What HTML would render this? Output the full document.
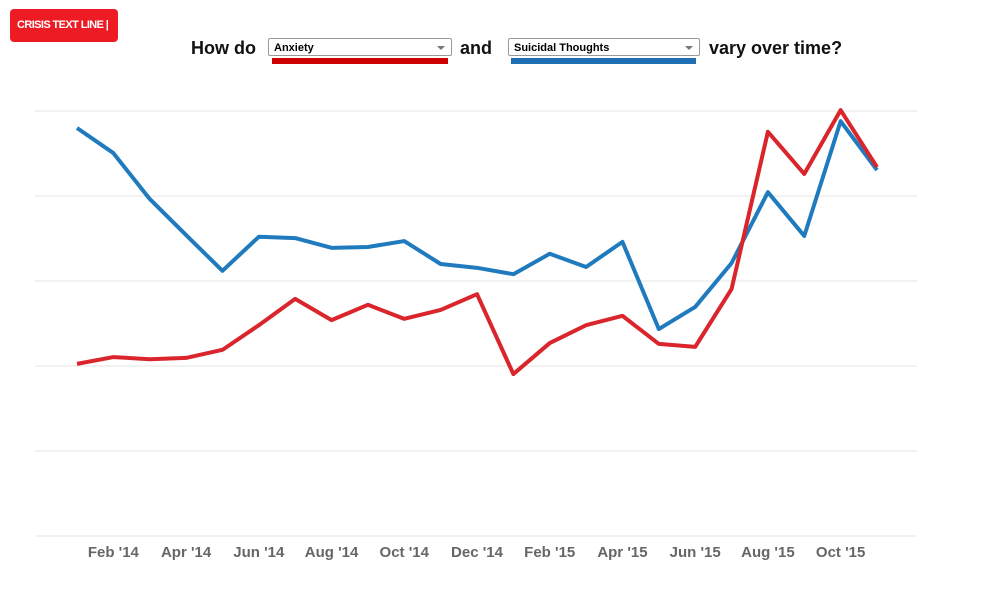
<!DOCTYPE html>
<html><head><meta charset="utf-8"><style>
body{margin:0;width:992px;height:591px;background:#fff;font-family:"Liberation Sans",sans-serif;position:relative;overflow:hidden}
.logo{position:absolute;left:10px;top:9px;width:108px;height:33px;background:#ed1c24;border-radius:4px;color:#fff;font-weight:bold;font-size:11px;line-height:33px;text-align:left;padding-left:7px;box-sizing:border-box;letter-spacing:-0.6px}
.title{position:absolute;top:38px;font-size:18px;font-weight:bold;color:#111}
.sel{position:absolute;top:38px;height:18px;border:1px solid #999;border-radius:2px;background:#fff;font-size:11px;font-weight:bold;line-height:18px;padding-left:5px;box-sizing:border-box}
.sel:after{content:"";position:absolute;right:6px;top:7px;border:4px solid transparent;border-top:4px solid #777}
.bar{position:absolute;top:58px;height:6px}
</style></head><body>
<div class="logo">CRISIS TEXT LINE |</div>
<div class="title" style="left:191px">How do</div>
<div class="sel" style="left:268px;width:184px">Anxiety</div>
<div class="bar" style="left:272px;width:176px;background:#c00"></div>
<div class="title" style="left:460px">and</div>
<div class="sel" style="left:508px;width:192px">Suicidal Thoughts</div>
<div class="bar" style="left:511px;width:185px;background:#1f6fb4"></div>
<div class="title" style="left:709px">vary over time?</div>
<svg id="chart" width="992" height="591" style="position:absolute;left:0;top:0"></svg>
<script>
const months=["Jan '14","Feb '14","Mar '14","Apr '14","May '14","Jun '14","Jul '14","Aug '14","Sep '14","Oct '14","Nov '14","Dec '14","Jan '15","Feb '15","Mar '15","Apr '15","May '15","Jun '15","Jul '15","Aug '15","Sep '15","Oct '15","Nov '15"];
const anxiety=[40.5,42.1,41.6,41.9,43.8,49.6,55.8,50.8,54.4,51.1,53.2,56.9,38.1,45.4,49.6,51.8,45.2,44.5,58.1,95.1,85.2,100.2,86.8];
const suicidal=[96,90.1,79.3,70.8,62.4,70.4,70.1,67.8,68,69.4,64,63.1,61.6,66.4,63.3,69.2,48.7,53.9,64.2,80.9,70.6,97.6,86.1];
const gridTicks=[0,20,40,60,80,100];
const ns="http://www.w3.org/2000/svg";
const svg=document.getElementById('chart');
const x=i=>77+i*(800/(months.length-1));
const y=v=>536-v*4.25;
function mk(t,a){const e=document.createElementNS(ns,t);for(const k in a)e.setAttribute(k,a[k]);svg.appendChild(e);return e;}
gridTicks.forEach(v=>{const l=mk('line',{x1:35,x2:917,y1:y(v),y2:y(v),stroke:'#e6e6e6','stroke-width':1});

});
months.forEach((m,i)=>{if(i%2===1){const t=mk('text',{x:x(i),y:557,'text-anchor':'middle','font-size':15,'font-weight':'bold',fill:'#666'});t.textContent=m;

}});
function line(d,c,n){const p=mk('polyline',{points:d.map((v,i)=>x(i)+','+y(v)).join(' '),fill:'none',stroke:c,'stroke-width':4,'stroke-linejoin':'round'});

}
line(suicidal,'#1f7bbd','suicidal-thoughts-line');
line(anxiety,'#d9252b','anxiety-line');
</script>
</body></html>
